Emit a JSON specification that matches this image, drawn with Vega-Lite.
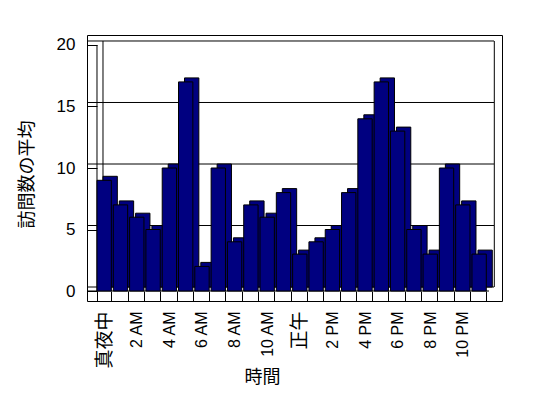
{
  "$schema": "https://vega.github.io/schema/vega-lite/v6.json",
  "width": 415,
  "height": 266,
  "autosize": "none",
  "padding": {"left": 87, "top": 35, "right": 46, "bottom": 97},
  "background": "white",
  "config": {
    "view": {"stroke": "black", "strokeWidth": 1},
    "axis": {
      "labelColor": "black",
      "titleColor": "black",
      "tickColor": "black",
      "labelFont": "Liberation Sans, Noto Sans CJK JP, sans-serif",
      "titleFont": "Noto Sans CJK JP, sans-serif",
      "titleFontWeight": "normal",
      "grid": false,
      "domain": false
    }
  },
  "datasets": {
    "visits": [
      {"hour": "真夜中", "value": 9}, {"hour": "1 AM", "value": 7}, {"hour": "2 AM", "value": 6}, {"hour": "3 AM", "value": 5},
      {"hour": "4 AM", "value": 10}, {"hour": "5 AM", "value": 17}, {"hour": "6 AM", "value": 2}, {"hour": "7 AM", "value": 10},
      {"hour": "8 AM", "value": 4}, {"hour": "9 AM", "value": 7}, {"hour": "10 AM", "value": 6}, {"hour": "11 AM", "value": 8},
      {"hour": "正午", "value": 3}, {"hour": "1 PM", "value": 4}, {"hour": "2 PM", "value": 5}, {"hour": "3 PM", "value": 8},
      {"hour": "4 PM", "value": 14}, {"hour": "5 PM", "value": 17}, {"hour": "6 PM", "value": 13}, {"hour": "7 PM", "value": 5},
      {"hour": "8 PM", "value": 3}, {"hour": "9 PM", "value": 10}, {"hour": "10 PM", "value": 7}, {"hour": "11 PM", "value": 3}
    ],
    "gridvals": [{"v": 0}, {"v": 5}, {"v": 10}, {"v": 15}, {"v": 20}]
  },
  "resolve": {"axis": {"x": "independent", "y": "independent"}},
  "layer": [
    {
      "data": {"name": "gridvals"},
      "mark": {"type": "rule", "color": "black", "strokeWidth": 1, "xOffset": -8, "x2Offset": 16, "yOffset": -4},
      "encoding": {
        "y": {
          "field": "v",
          "type": "quantitative",
          "scale": {"domain": [-0.813, 20.813], "nice": false, "zero": false},
          "axis": {
            "orient": "left",
            "values": [0, 5, 10, 15, 20],
            "ticks": true,
            "tickSize": -10,
            "tickWidth": 1,
            "labelPadding": 22,
            "labelFontSize": 17,
            "title": "訪問数の平均",
            "titleFontSize": 18,
            "titleAngle": 270,
            "titleBaseline": "middle",
            "titleAlign": "center",
            "titleX": -60,
            "titleY": 139
          }
        }
      }
    },
    {
      "data": {"name": "visits"},
      "transform": [{"filter": "datum.hour == '真夜中'"}],
      "mark": {"type": "rule", "color": "black", "strokeWidth": 1},
      "encoding": {
        "x": {"field": "hour", "type": "nominal", "bandPosition": 0, "axis": null},
        "y": {"datum": 20, "type": "quantitative", "axis": null},
        "y2": {"datum": 0}
      }
    },
    {
      "data": {"name": "visits"},
      "transform": [{"filter": "datum.hour == '真夜中'"}],
      "mark": {"type": "rule", "color": "black", "strokeWidth": 1, "xOffset": 6, "yOffset": -4, "y2Offset": -4},
      "encoding": {
        "x": {"field": "hour", "type": "nominal", "bandPosition": 0, "axis": null},
        "y": {"datum": 20, "type": "quantitative", "axis": null},
        "y2": {"datum": 0}
      }
    },
    {
      "data": {"name": "visits"},
      "transform": [{"filter": "datum.hour == '11 PM'"}],
      "mark": {"type": "rule", "color": "black", "strokeWidth": 1, "xOffset": 8, "yOffset": -4, "y2Offset": -4},
      "encoding": {
        "x": {"field": "hour", "type": "nominal", "bandPosition": 1, "axis": null},
        "y": {"datum": 20, "type": "quantitative", "axis": null},
        "y2": {"datum": 0}
      }
    },
    {
      "data": {"name": "gridvals"},
      "transform": [{"filter": "datum.v == 0"}],
      "mark": {"type": "rule", "color": "black", "strokeWidth": 1, "xOffset": -13},
      "encoding": {
        "y": {"field": "v", "type": "quantitative", "axis": null}
      }
    },
    {
      "data": {"name": "visits"},
      "mark": {"type": "bar", "fill": "#000080", "stroke": "black", "strokeWidth": 1, "xOffset": 6, "yOffset": -4, "y2Offset": -4},
      "encoding": {
        "x": {"field": "hour", "type": "nominal", "axis": null},
        "y": {"field": "value", "type": "quantitative", "axis": null},
        "y2": {"datum": 0}
      }
    },
    {
      "data": {"name": "visits"},
      "mark": {"type": "bar", "fill": "#000080", "stroke": "black", "strokeWidth": 1},
      "encoding": {
        "x": {"field": "hour", "type": "nominal",
              "scale": {
                "domain": ["真夜中", "1 AM", "2 AM", "3 AM", "4 AM", "5 AM", "6 AM", "7 AM", "8 AM", "9 AM", "10 AM", "11 AM",
                           "正午", "1 PM", "2 PM", "3 PM", "4 PM", "5 PM", "6 PM", "7 PM", "8 PM", "9 PM", "10 PM", "11 PM"],
                "paddingInner": 0.12, "paddingOuter": 0.788, "align": 0.389},
              "axis": {
                "orient": "bottom",
                "ticks": true,
                "tickBand": "extent",
                "tickSize": -10,
                "labelAngle": 270,
                "labelPadding": 20,
                "labelExpr": "round(datum.index * 23) % 2 == 1 ? '' : datum.label",
                "labelFontSize": {"condition": {"test": "indexof(datum.label, 'M') < 0", "value": 19}, "value": 16},
                "title": "時間",
                "titleFontSize": 18,
                "titleBaseline": "middle",
                "titleAlign": "center",
                "titleX": 175,
                "titleY": 76
              }},
        "y": {"field": "value", "type": "quantitative", "axis": null},
        "y2": {"datum": 0}
      }
    }
  ]
}
